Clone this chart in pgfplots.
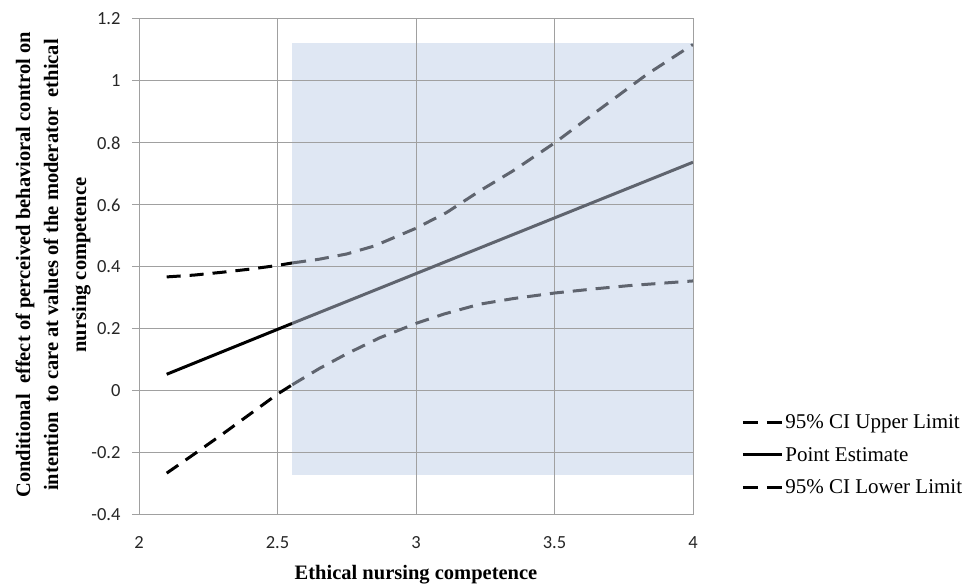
\documentclass[border=0pt]{standalone}
\usepackage{pgfplots}
\pgfplotsset{compat=1.18}
\usepackage{fontspec}
\setmainfont{Liberation Serif}
\newfontfamily\calibri{Carlito}
\definecolor{shade}{RGB}{223,231,243}
\definecolor{ln}{RGB}{95,100,110}
\definecolor{gridc}{RGB}{160,160,160}
\begin{document}
\begin{tikzpicture}
\begin{axis}[
  set layers,
  scale only axis,
  width=554bp, height=496bp,
  xmin=2, xmax=4, ymin=-0.4, ymax=1.2,
  xtick={2,2.5,3,3.5,4},
  xticklabels={2,2.5,3,3.5,4},
  ytick={-0.4,-0.2,0,0.2,0.4,0.6,0.8,1,1.2},
  yticklabels={-0.4,-0.2,0,0.2,0.4,0.6,0.8,1,1.2},
  grid=major,
  major grid style={gridc, line width=1bp},
  axis line style={gridc, line width=1bp},
  tick align=outside,
  major tick length=7bp,
  xtick pos=bottom, ytick pos=left,
  ytick style={gridc, line width=1bp},
  xtick style={draw=none},
  tick label style={font=\calibri\fontsize{18.5bp}{20bp}\selectfont, text=black!85},
  yticklabel style={xshift=-8bp},
  xticklabel style={yshift=-11bp},
  xlabel={Ethical nursing competence},
  xlabel style={font=\bfseries\fontsize{20.5bp}{22bp}\selectfont, at={(axis description cs:0.5,-0.121)}, anchor=center},
  ylabel={Conditional\ \ effect of perceived behavioral control on\\intention\ \ to care at values of the moderator\ \ ethical\\nursing competence},
  ylabel style={font=\bfseries\fontsize{20.5bp}{28bp}\selectfont, align=center, at={(axis description cs:-0.155,0.504)}, anchor=center},
  legend style={at={(axis description cs:1.087,0.121)}, anchor=west, draw=none, fill=none, inner sep=0pt,
    font=\fontsize{21bp}{23bp}\selectfont, row sep=13bp,
    /tikz/every even column/.append style={column sep=0bp}},
  legend cell align=left,
  legend image code/.code={\draw[#1] (0bp,0bp) -- (39bp,0bp);},
]
\addplot[on layer=axis background, fill=shade, draw=none, forget plot]
  coordinates {(2.553,-0.27) (4,-0.27) (4,1.123) (2.553,1.123)} -- cycle;

\addlegendimage{black, line width=3bp, dash pattern=on 15bp off 9bp}
\addlegendentry{95\% CI Upper Limit}
\addlegendimage{black, line width=3bp}
\addlegendentry{Point Estimate}
\addlegendimage{black, line width=3bp, dash pattern=on 15bp off 9bp}
\addlegendentry{95\% CI Lower Limit}

% point estimate
\addplot[black, line width=3bp, forget plot] coordinates {(2.1,0.054) (2.553,0.218)};
\addplot[ln, line width=3bp, forget plot] coordinates {(2.553,0.218) (4,0.738)};
% upper
\addplot[black, line width=3bp, dash pattern=on 14bp off 9bp, forget plot] coordinates {
(2.1,0.368) (2.2,0.374) (2.3,0.383) (2.4,0.393) (2.5,0.405) (2.553,0.413)};
\addplot[ln, line width=3bp, dash pattern=on 14bp off 9bp, forget plot] coordinates {
(2.553,0.413) (2.65,0.425) (2.75,0.442) (2.85,0.468) (3.0,0.525) (3.111,0.576) (3.231,0.646) (3.35,0.71) (3.5,0.80) (3.65,0.9) (3.833,1.021) (4,1.118)};
% lower
\addplot[black, line width=3bp, dash pattern=on 14bp off 9bp, forget plot] coordinates {
(2.1,-0.265) (2.2,-0.203) (2.3,-0.14) (2.4,-0.075) (2.5,-0.01) (2.553,0.02)};
\addplot[ln, line width=3bp, dash pattern=on 14bp off 9bp, forget plot] coordinates {
(2.553,0.02) (2.65,0.072) (2.75,0.12) (2.87,0.172) (3.0,0.218) (3.1,0.248) (3.23,0.28) (3.35,0.298) (3.5,0.316) (3.65,0.33) (3.77,0.34) (4.0,0.355)};
\end{axis}
\path (-139bp,-69bp) rectangle (829bp,515bp);
\end{tikzpicture}
\end{document}
